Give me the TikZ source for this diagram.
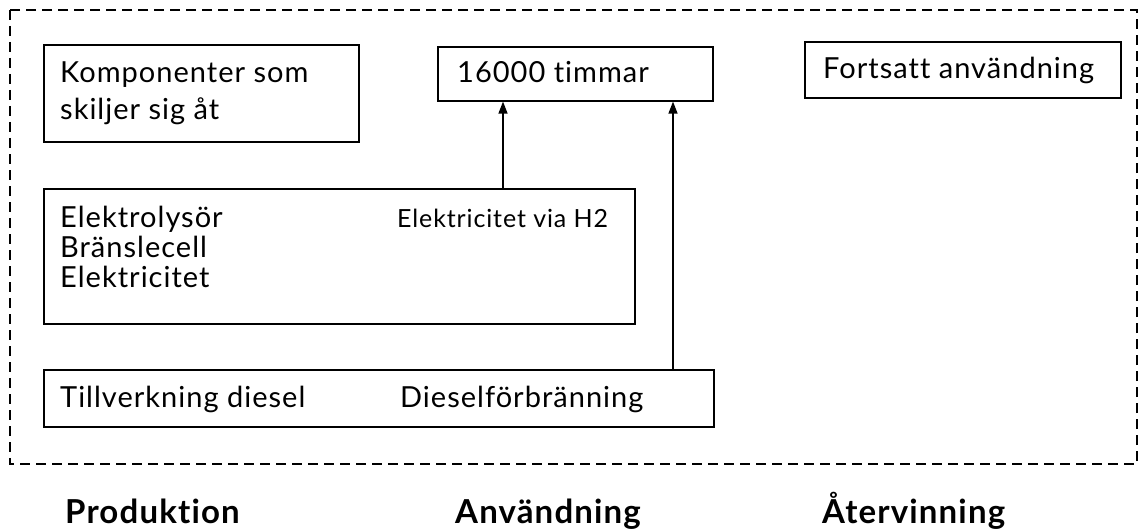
\documentclass[tikz,border=0pt]{standalone}
\usepackage{fontspec}
\setmainfont{Lato}[LetterSpace=3.5,Ligatures=NoCommon]
\usetikzlibrary{arrows.meta}

\tikzset{
  box/.style={draw,line width=1.6pt,rectangle,inner sep=0pt,anchor=north west},
  txt/.style={anchor=base west,inner sep=0pt},
  arr/.style={line width=1.3pt,-{Triangle[width=9pt,length=12pt]}},
}
\newcommand{\bodyfont}{\fontsize{29}{35}\selectfont}
\newcommand{\smallfont}{\fontsize{25}{30}\selectfont}
\newcommand{\phasefont}{\fontsize{33}{39}\selectfont\bfseries}

\begin{document}
\begin{tikzpicture}[x=1pt,y=1pt,font=\bodyfont]
        \useasboundingbox (0,0) rectangle (1140,-532);
        \draw[dashed,dash pattern=on 10pt off 6pt,line width=1.4pt] (10,-10) rectangle (1137,-464);

% boxes
{\node[box,minimum width=315,minimum height=97] (komp) at (43,-44) {};}
{\node[box,minimum width=275,minimum height=54] (timmar) at (437,-46) {};}
{\node[box,minimum width=316,minimum height=56] (fortsatt) at (804,-41) {};}
{\node[box,minimum width=591,minimum height=135] (elektro) at (43,-188) {};}
{\node[box,minimum width=670,minimum height=57] (diesel) at (43,-369) {};}

% texts
{\node[txt] (kompA) at (60,-83) {Komponenter som};}
{\node[txt] (kompB) at (60,-120) {skiljer sig åt};}
{\node[txt] (timmarT) at (457,-83) {16000 timmar};}
{\node[txt] (fortsattT) at (823,-79) {Fortsatt användning};}
{\node[txt] (elA) at (60,-227) {Elektrolysör};}
{\node[txt] (elB) at (60,-257) {Bränslecell};}
{\node[txt] (elC) at (60,-287) {Elektricitet};}
{\node[txt,font=\smallfont] (viaH) at (397,-227) {Elektricitet via H2};}
{\node[txt] (tillv) at (60,-407) {Tillverkning diesel};}
{\node[txt] (forbr) at (400,-407) {Dieselförbränning};}

% phases
{\node[txt,font=\phasefont] (prod) at (65,-523) {Produktion};}
{\node[txt,font=\phasefont] (anv) at (455,-523) {Användning};}
{\node[txt,font=\phasefont] (atv) at (822,-523) {Återvinning};}

% arrows
\coordinate (h2x) at (503,0);
\coordinate (dx) at (673,0);
\draw[arr] (h2x |- elektro.north) -- (h2x |- timmar.south);
\draw[arr] (dx |- diesel.north) -- (dx |- timmar.south);

\end{tikzpicture}
\end{document}
